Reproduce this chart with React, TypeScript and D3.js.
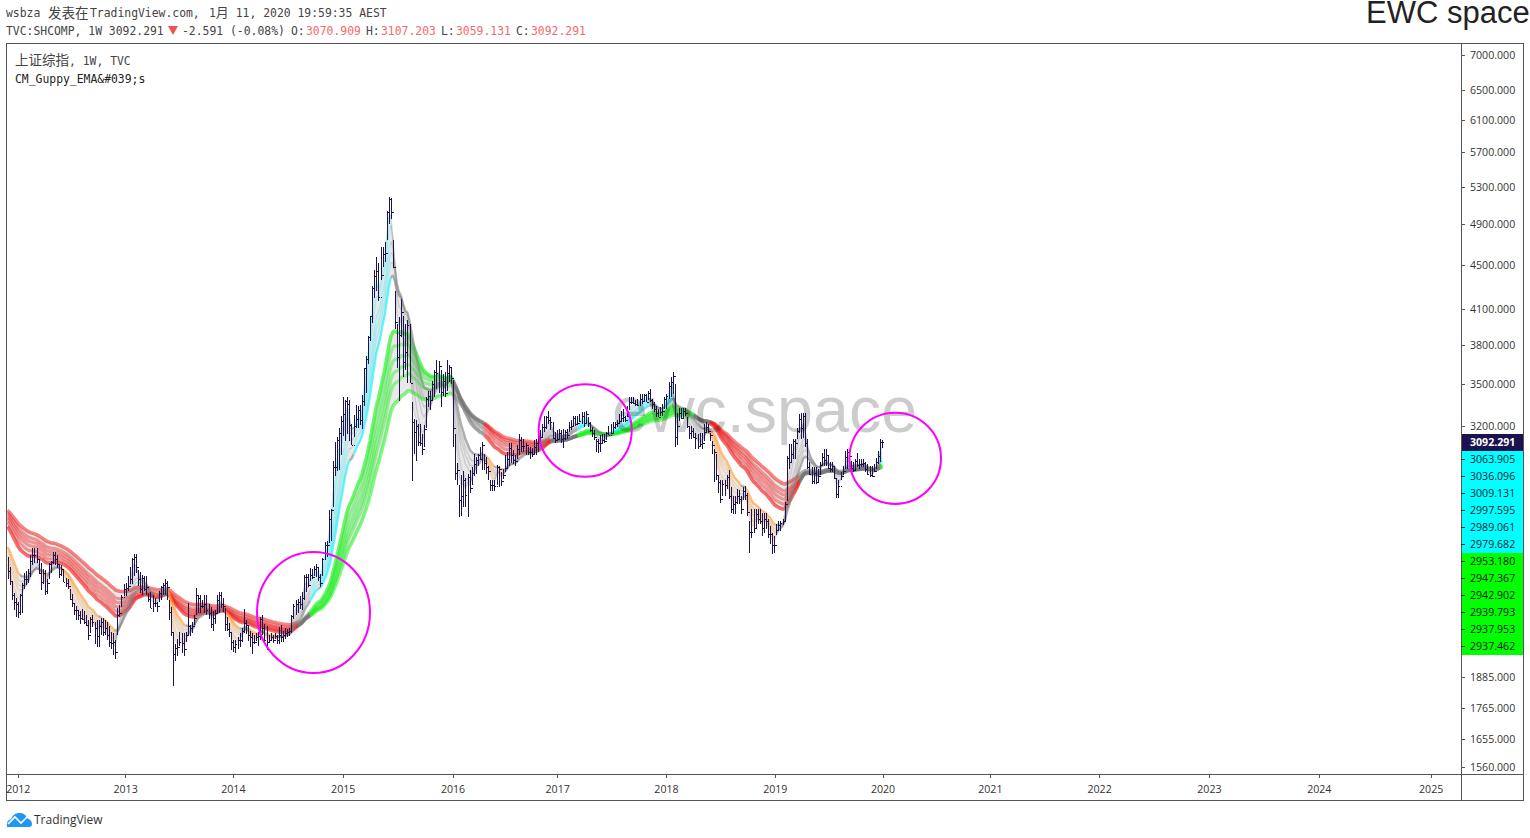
import React from "react";
import * as d3 from "d3";

const highs = [
2430,2380,2310,2250,2230,2210,2245,2300,2350,2360,
2370,2440,2478,2478,2476,2420,2400,2370,2365,2320,
2400,2410,2453,2453,2440,2395,2390,2370,2326,2318,
2270,2248,2205,2190,2167,2167,2175,2167,2150,2127,
2142,2150,2120,2127,2127,2135,2135,2127,2120,2098,
2075,2070,2040,2180,2195,2240,2294,2300,2335,2378,
2425,2444,2444,2362,2355,2340,2335,2335,2250,2258,
2240,2230,2210,2260,2285,2300,2317,2310,2217,2187,
2075,2020,2045,2075,2070,2070,2075,2205,2105,2120,
2150,2275,2240,2240,2217,2240,2240,2200,2187,2167,
2170,2240,2255,2255,2230,2180,2142,2115,2070,2040,
2040,2050,2070,2090,2175,2125,2105,2080,2070,2060,
2070,2075,2142,2150,2110,2100,2060,2070,2060,2070,
2060,2095,2105,2080,2090,2085,2090,2150,2200,2217,
2225,2235,2255,2340,2345,2345,2375,2370,2385,2395,
2375,2345,2425,2505,2510,2680,2688,2975,3094,3130,
3190,3270,3404,3383,3405,3383,3215,3280,3350,3340,
3345,3420,3620,3710,3870,4040,4300,4445,4575,4510,
4670,4670,4720,5040,5193,5178,4735,4260,3970,4030,
4187,4040,3970,4000,3970,3370,3250,3240,3215,3215,
3150,3210,3400,3450,3450,3520,3600,3680,3670,3600,
3570,3585,3680,3640,3620,3530,3150,2960,2830,2890,
2910,2870,2893,2915,2935,3020,2997,3020,3060,3095,
3020,2997,2940,2860,2860,2860,2950,2940,2905,2925,
3013,3034,3087,3087,3044,3013,3075,3150,3129,3118,
3087,3065,3065,3054,3108,3118,3150,3172,3217,3272,
3272,3306,3261,3228,3161,3172,3183,3172,3183,3172,
3183,3228,3240,3272,3272,3272,3283,3295,3295,3306,
3261,3228,3193,3172,3118,3118,3140,3150,3150,3161,
3204,3217,3228,3228,3240,3283,3306,3318,3272,3342,
3400,3400,3400,3380,3389,3425,3425,3425,3425,3450,
3461,3389,3365,3342,3318,3330,3354,3400,3425,3510,
3547,3587,3500,3290,3328,3328,3328,3328,3260,3200,
3200,3190,3158,3150,3158,3158,3214,3226,3214,3158,
3100,3050,3015,2885,2855,2855,2855,2885,2915,2815,
2762,2762,2805,2795,2762,2815,2820,2780,2620,2685,
2685,2685,2685,2685,2667,2667,2667,2629,2592,2556,
2538,2602,2620,2620,2629,2727,3007,3080,3080,3115,
3115,3190,3282,3293,3293,3293,3115,2965,2937,2937,
2937,2925,2965,3025,3050,3050,3007,2965,2965,2945,
2865,2855,2905,2945,3040,3050,3025,2975,2965,2985,
3025,2985,2985,2985,2965,2955,2945,2945,2955,2995,
3040,3115,3107.203];

const lows = [
2320,2290,2220,2170,2140,2135,2150,2160,2270,2290,
2300,2330,2390,2400,2400,2345,2265,2295,2242,2245,
2320,2350,2395,2390,2375,2325,2335,2305,2282,2270,
2217,2187,2150,2127,2127,2108,2127,2108,2100,2040,
2070,2095,2020,2010,2009,2062,2055,2062,2040,2009,
2000,1975,1959,2062,2142,2187,2235,2235,2260,2294,
2294,2335,2350,2285,2250,2240,2260,2240,2210,2180,
2165,2187,2165,2210,2217,2240,2240,2217,2127,2055,
1849,1951,1972,2012,1985,1972,2030,2062,2055,2070,
2105,2150,2160,2160,2180,2160,2150,2130,2090,2080,
2110,2160,2160,2180,2165,2080,2080,2050,1995,1990,
1985,2000,2010,2030,2070,2065,2035,2010,1980,2020,
2035,2015,2040,2060,2020,1995,2025,2035,2025,2045,
2020,2020,2030,2030,2045,2050,2055,2070,2130,2150,
2160,2175,2170,2217,2255,2280,2310,2320,2335,2330,
2310,2280,2335,2420,2430,2500,2513,2697,2882,2910,
2920,3010,3134,3100,3150,3100,3075,3130,3190,3190,
3210,3180,3340,3430,3650,3830,3980,4190,4260,4170,
4360,4480,4520,4735,4905,4950,4465,3930,3620,3373,
3860,3550,3600,3505,3505,2850,3020,2975,3070,3070,
3010,3060,3190,3330,3310,3380,3400,3460,3430,3330,
3410,3400,3450,3510,3500,3060,2860,2830,2640,2650,
2700,2700,2643,2780,2830,2880,2893,2940,2980,2915,
2915,2893,2860,2790,2790,2790,2830,2815,2820,2865,
2905,2925,2945,2964,2955,2945,2985,3013,3034,3034,
3013,3013,2985,3002,3013,3013,3034,3080,3129,3161,
3183,3217,3172,3118,3092,3108,3118,3087,3054,3108,
3118,3161,3172,3193,3204,3217,3228,3217,3193,3217,
3193,3161,3129,3108,3034,3023,3034,3092,3092,3108,
3140,3150,3150,3183,3193,3217,3228,3228,3228,3261,
3310,3354,3354,3342,3342,3342,3354,3365,3365,3380,
3365,3318,3295,3261,3261,3272,3272,3318,3318,3389,
3400,3425,3065,3075,3237,3248,3248,3270,3190,3115,
3115,3123,3050,3050,3060,3050,3100,3158,3158,3100,
3015,2845,2855,2780,2720,2760,2760,2805,2745,2667,
2657,2657,2715,2715,2657,2740,2740,2648,2450,2529,
2556,2574,2602,2602,2538,2556,2574,2529,2494,2442,
2450,2546,2565,2565,2600,2620,2735,2925,2965,2985,
2985,3115,3158,3115,3123,3060,2925,2885,2835,2835,
2835,2845,2885,2945,2945,2945,2925,2905,2905,2865,
2750,2750,2855,2885,2925,2925,2945,2905,2905,2915,
2937,2925,2937,2937,2905,2885,2875,2875,2905,2925,
2955,2965,3059.131];

const closes = [
2360,2310,2240,2210,2200,2165,2240,2290,2320,2320,
2350,2410,2440,2439,2420,2350,2305,2350,2262,2300,
2395,2405,2440,2420,2395,2345,2370,2305,2300,2285,
2225,2205,2170,2170,2150,2135,2130,2120,2105,2060,
2130,2120,2090,2055,2100,2120,2075,2090,2060,2030,
2025,2030,1990,2150,2160,2233,2270,2276,2285,2317,
2419,2430,2380,2320,2270,2325,2270,2280,2225,2180,
2205,2205,2190,2250,2280,2290,2300,2280,2162,2073,
1979,2007,2010,2030,2028,2000,2060,2100,2090,2100,
2135,2240,2230,2190,2190,2200,2170,2160,2110,2135,
2160,2220,2240,2200,2190,2110,2085,2075,2030,2010,
2020,2040,2040,2080,2115,2105,2060,2050,2030,2030,
2050,2055,2130,2090,2040,2030,2040,2050,2040,2055,
2040,2060,2050,2060,2070,2075,2080,2145,2190,2200,
2210,2200,2230,2330,2330,2290,2340,2330,2370,2380,
2330,2300,2420,2490,2490,2630,2680,2938,2938,3108,
3157,3234,3285,3376,3351,3210,3075,3203,3246,3310,
3241,3372,3617,3691,3863,4034,4287,4393,4441,4205,
4400,4600,4611,5023,5166,5023,4478,3990,3700,3877,
4070,3663,3744,3965,3507,3232,3160,3200,3097,3092,
3052,3183,3391,3412,3382,3500,3590,3580,3630,3436,
3524,3434,3578,3627,3539,3186,2900,2916,2737,2763,
2860,2767,2874,2810,2900,2955,2979,3009,2984,3078,
2959,2938,2913,2827,2825,2821,2938,2927,2854,2885,
2932,2988,3054,3012,2979,2976,3050,3108,3070,3067,
3078,3030,3033,3020,3063,3090,3104,3125,3196,3192,
3262,3243,3232,3122,3110,3115,3154,3112,3123,3159,
3140,3196,3202,3253,3218,3225,3237,3269,3222,3286,
3222,3173,3154,3130,3103,3090,3090,3110,3105,3158,
3140,3157,3192,3217,3222,3237,3253,3262,3240,3268,
3365,3365,3360,3352,3348,3390,3378,3416,3371,3432,
3382,3353,3317,3289,3266,3297,3307,3391,3410,3487,
3510,3558,3129,3199,3289,3254,3307,3290,3200,3152,
3168,3131,3120,3071,3082,3091,3163,3193,3170,3141,
3075,3030,2889,2847,2747,2831,2829,2873,2760,2690,
2715,2725,2760,2745,2690,2790,2770,2670,2560,2560,
2580,2660,2630,2620,2580,2630,2620,2550,2550,2490,
2490,2570,2600,2610,2620,2715,2994,2969,3021,3104,
3090,3170,3246,3188,3270,3086,2939,2895,2852,2898,
2845,2881,2950,3001,2978,3011,2930,2924,2944,2867,
2774,2823,2880,2910,2999,3031,3006,2932,2915,2973,
2950,2955,2958,2964,2925,2891,2885,2880,2912,2967,
3004,3094.882,3092.291];

const firstOpen = 2420;
const lastOpen = 3070.909;

const shortPeriods = [3, 5, 8, 10, 12, 15];
const longPeriods = [30, 35, 40, 45, 50, 60];
const shortSeeds = [2370, 2390, 2420, 2440, 2460, 2482];
const longSeeds = [2590, 2615, 2635, 2650, 2665, 2680];

const priceTicks = [7000, 6500, 6100, 5700, 5300, 4900, 4500, 4100, 3800, 3500, 3200, 1885, 1765, 1655, 1560];
const cyanLabels = ["3063.905", "3036.096", "3009.131", "2997.595", "2989.061", "2979.682"];
const greenLabels = ["2953.180", "2947.367", "2942.902", "2939.793", "2937.953", "2937.462"];
const yearLabels = ["2012", "2013", "2014", "2015", "2016", "2017", "2018", "2019", "2020", "2021", "2022", "2023", "2024", "2025"];
const yearBarIndex = [5.2, 57, 109, 162, 215, 265.5, 318, 370.5, 422.5, 474.3, 527, 580, 633, 687];

const x = d3.scaleLinear().domain([0, 422]).range([7.5, 882]);
const y = d3.scaleLog().domain([7000, 1560]).range([55, 767]);

const ema = (p: number, seed: number) => {
  const k = 2 / (p + 1);
  const out: number[] = [seed];
  for (let i = 1; i < closes.length; i++) out.push(closes[i] * k + out[i - 1] * (1 - k));
  return out;
};
const shortE = shortPeriods.map((p, i) => ema(p, shortSeeds[i]));
const longE = longPeriods.map((p, i) => ema(p, longSeeds[i]));

const order = (g: number[][], i: number) => {
  let up = true, dn = true;
  for (let k = 0; k < g.length - 1; k++) {
    if (g[k][i] <= g[k + 1][i]) up = false;
    if (g[k][i] >= g[k + 1][i]) dn = false;
  }
  return up ? 1 : dn ? -1 : 0;
};
const longState = closes.map((_, i) => order(longE, i));
const shortState = closes.map((_, i) => {
  const s = order(shortE, i);
  return s === longState[i] ? s : 0;
});

const runs = (vals: number[], st: number[], cols: Record<string, string>) => {
  const res: { d: string; c: string }[] = [];
  const n = vals.length;
  let start = 0;
  const path = (a: number, b: number) =>
    d3.line<number>().x((i) => x(i)).y((i) => y(vals[i]))(d3.range(a, b + 1)) || "";
  for (let i = 2; i <= n; i++) {
    if (i === n || st[i] !== st[start + 1]) {
      res.push({ d: path(start, i - 1), c: cols[String(st[start + 1])] });
      start = i - 1;
    }
  }
  return res;
};

const band = (a: number[], b: number[]) =>
  d3.area<number>().x((i) => x(i)).y0((i) => y(a[i])).y1((i) => y(b[i]))(d3.range(a.length)) || "";

const NAVY = "#1c1250";
const AXIS = "#555";
const LABEL = "Open Sans, sans-serif";
const MONO = "DejaVu Sans Mono, monospace";
const shortCols = { "1": "#00f0ff", "-1": "#ff9a2e", "0": "#808080" };
const longCols = { "1": "#1cf01c", "-1": "#f01e1e", "0": "#757575" };

const headRed = [
  { t: "O:", x: 291, c: "#444" }, { t: "3070.909", x: 306, c: "#f46a6a" },
  { t: "H:", x: 366, c: "#444" }, { t: "3107.203", x: 381, c: "#f46a6a" },
  { t: "L:", x: 441, c: "#444" }, { t: "3059.131", x: 456, c: "#f46a6a" },
  { t: "C:", x: 516, c: "#444" }, { t: "3092.291", x: 531, c: "#f46a6a" },
];

export default function App() {
  return (
    <svg width={1530} height={838} style={{ position: "absolute", left: 0, top: 0, display: "block", background: "#fff" }}>
      <defs>
        <clipPath id="plot"><rect x={7} y={44} width={1454} height={730} /></clipPath>
      </defs>

      <g clipPath="url(#plot)">
        {[shortE, longE].map((g, gi) =>
          g.slice(0, -1).map((l, k) => (
            <path key={`f${gi}${k}`} d={band(l, g[k + 1])} fill="#8a8a8a" fillOpacity={0.2} stroke="none" />
          ))
        )}
        {longE.map((l, k) =>
          runs(l, longState, longCols).map((r, j) => (
            <path key={`l${k}-${j}`} d={r.d} fill="none" stroke={r.c} strokeOpacity={k === 0 ? 0.65 : k === 5 ? 0.55 : 0.42} strokeWidth={k === 0 || k === 5 ? 3.6 : 3.2} strokeLinejoin="round" />
          ))
        )}
        {shortE.map((l, k) =>
          runs(l, shortState, shortCols).map((r, j) => (
            <path key={`s${k}-${j}`} d={r.d} fill="none" stroke={r.c} strokeOpacity={k === 5 ? 0.6 : 0.28} strokeWidth={k === 5 ? 2.4 : 1.4} strokeLinejoin="round" />
          ))
        )}
        <g stroke={NAVY} strokeWidth={1} shapeRendering="crispEdges">
          {closes.map((c, i) => {
            const bx = Math.round(x(i)) + 0.5;
            const o = i === 0 ? firstOpen : i === closes.length - 1 ? lastOpen : closes[i - 1];
            return (
              <g key={i}>
                <line x1={bx} x2={bx} y1={y(highs[i])} y2={y(lows[i])} />
                <line x1={bx - 1} x2={bx} y1={Math.round(y(o)) + 0.5} y2={Math.round(y(o)) + 0.5} />
                <line x1={bx} x2={bx + 1} y1={Math.round(y(c)) + 0.5} y2={Math.round(y(c)) + 0.5} />
              </g>
            );
          })}
        </g>
        <text x={612} y={432} fontFamily="Liberation Sans, Arial, sans-serif" fontSize={64.6} fill="#000" fillOpacity={0.2}>ewc.space</text>
        <g fill="none" stroke="#ff00ff" strokeWidth={2}>
          <ellipse cx={313.5} cy={612.5} rx={56.5} ry={60.5} />
          <ellipse cx={585.2} cy={430.5} rx={46.5} ry={46.2} />
          <ellipse cx={895.2} cy={458.3} rx={45.8} ry={45.6} />
        </g>
      </g>

      <rect x={1462} y={434} width={61} height={17} fill={NAVY} />
      <rect x={1462} y={451} width={61} height={102} fill="#00ffff" />
      <rect x={1462} y={553} width={61} height={102} fill="#00ff00" />

      <g fill="none" stroke={AXIS} strokeWidth={1} shapeRendering="crispEdges">
        <rect x={6.5} y={43.5} width={1517} height={757} />
        <line x1={1461.5} x2={1461.5} y1={43.5} y2={800.5} />
        <line x1={6.5} x2={1523.5} y1={774.5} y2={774.5} />
      </g>

      <g fontFamily={LABEL} fontSize={10.6} dominantBaseline="central">
        {priceTicks.map((p) => (
          <g key={p}>
            <line x1={1461} x2={1465} y1={Math.round(y(p)) + 0.5} y2={Math.round(y(p)) + 0.5} stroke={AXIS} shapeRendering="crispEdges" />
            <text x={1470} y={y(p)} fill="#333">{d3.format(".3f")(p)}</text>
          </g>
        ))}
        <text x={1470} y={442} fill="#fff" fontWeight="bold">3092.291</text>
        {cyanLabels.map((t, i) => (
          <g key={t}>
            <line x1={1461} x2={1465} y1={459.5 + 17 * i} y2={459.5 + 17 * i} stroke="#222" shapeRendering="crispEdges" />
            <text x={1470} y={459 + 17 * i} fill="#123">{t}</text>
          </g>
        ))}
        {greenLabels.map((t, i) => (
          <g key={t}>
            <line x1={1461} x2={1465} y1={561.5 + 17 * i} y2={561.5 + 17 * i} stroke="#222" shapeRendering="crispEdges" />
            <text x={1470} y={561 + 17 * i} fill="#111">{t}</text>
          </g>
        ))}
        {yearLabels.map((t, i) => (
          <g key={t}>
            <line x1={x(yearBarIndex[i])} x2={x(yearBarIndex[i])} y1={774} y2={778} stroke={AXIS} shapeRendering="crispEdges" />
            <text x={x(yearBarIndex[i])} y={788.5} textAnchor="middle" fill="#333">{t}</text>
          </g>
        ))}
      </g>

      <g fontFamily={MONO} fontSize={11.4} fill="#444">
        <text x={6} y={17}>wsbza</text>
        <text x={48} y={18} fontFamily="Noto Sans CJK SC" fontSize={13.5}>发表在</text>
        <text x={90} y={17}>TradingView.com,</text>
        <text x={209} y={17}>1<tspan fontFamily="Noto Sans CJK SC" fontSize={13}>月</tspan> 11, 2020 19:59:35 AEST</text>
        <text x={6} y={35}>TVC:SHCOMP, 1W 3092.291</text>
        <path d="M168 26 h10 l-5 9 z" fill="#ef5350" />
        <text x={182} y={35}>-2.591 (-0.08%)</text>
        {headRed.map((h) => (
          <text key={h.x} x={h.x} y={35} fill={h.c}>{h.t}</text>
        ))}
        <text x={15} y={65}><tspan fontFamily="Noto Sans CJK SC" fontSize={13.5}>上证综指</tspan>, 1W, TVC</text>
        <text x={15} y={83} fill="#222">CM_Guppy_EMA&amp;#039;s</text>
      </g>

      <text x={1366} y={23} fontFamily="Liberation Sans, Arial, sans-serif" fontSize={31} fill="#222">EWC space</text>

      <path d="M7 827 Q6 820 11 819 Q14 812 20 813 Q25 813 27 818 Q32 820 32 824 Q32 827 29 827 Z" fill="#2196f3" />
      <path d="M8 824 L15 817 L21 823 L27 817" fill="none" stroke="#fff" strokeWidth={1.6} />
      <text x={34} y={824} fontFamily="Open Sans, sans-serif" fontSize={12} fill="#333">TradingView</text>
    </svg>
  );
}
